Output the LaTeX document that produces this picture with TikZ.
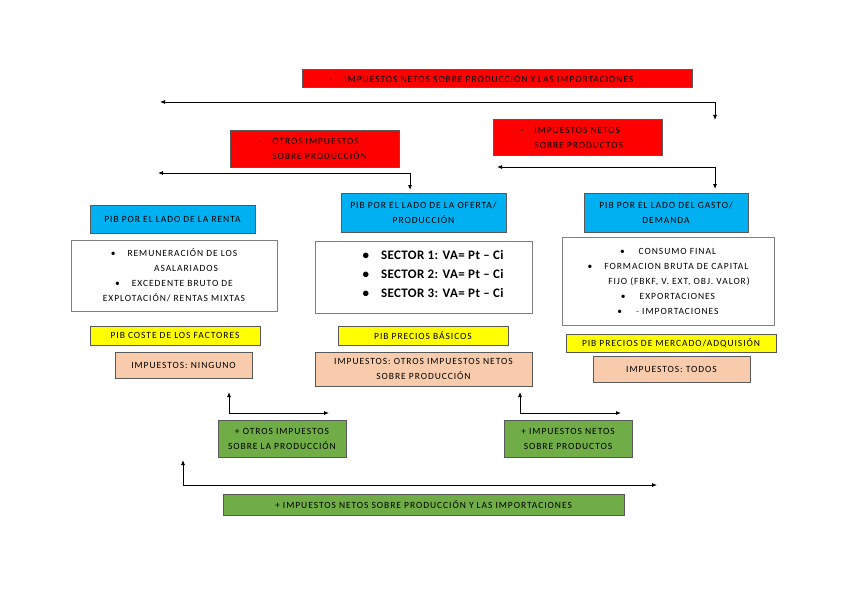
\documentclass[tikz,border=0pt]{standalone}
\usepackage{fontspec}
\setmainfont{Carlito}
\newfontfamily\espaciada[LetterSpace=10]{Carlito}
\newfontfamily\poca[LetterSpace=3]{Carlito}
\usetikzlibrary{arrows.meta}
\definecolor{rojo}{HTML}{FF0000}
\definecolor{azul}{HTML}{00B0F0}
\definecolor{amarillo}{HTML}{FFFF00}
\definecolor{salmon}{HTML}{F8CBAD}
\definecolor{verde}{HTML}{70AD47}
\definecolor{borde}{HTML}{595959}
\tikzset{
	letra/.style={font=\espaciada\fontsize{9.5}{15}\selectfont},
	caja/.style={draw=borde,line width=0.8pt,inner sep=0pt,letra,align=center},
	roja/.style={caja,fill=rojo},
	azulbox/.style={caja,fill=azul},
	blanca/.style={caja,draw=gray,fill=white},
	amarilla/.style={caja,fill=amarillo},
	salmonbox/.style={caja,fill=salmon},
	verdebox/.style={caja,fill=verde},
	flecha/.style={line width=0.8pt,{Latex[length=5pt,width=4pt]}-{Latex[length=5pt,width=4pt]}},
}
\begin{document}
\begin{tikzpicture}[x=1pt,y=-1pt]
\useasboundingbox (0,0) rectangle (848,599);
% impuestos que se restan
\node [roja,minimum width=390,minimum height=18] (inpm) at (497,78) {};
\node [anchor=west,letra] (inpmt) at (326,78.5) {-\hspace{12pt}IMPUESTOS NETOS SOBRE PRODUCCIÓN Y LAS IMPORTACIONES};
\node [roja,minimum width=169,minimum height=37] (oisp) at (314.5,148.5) {};
\node [anchor=west,letra] (oispt) at (255,149)
  {\begin{tabular}{@{}l@{\hspace{11pt}}l@{}}-&OTROS IMPUESTOS\\&SOBRE PRODUCCIÓN\end{tabular}};
\node [roja,minimum width=169,minimum height=36] (insp) at (577.5,137) {};
\node [anchor=west,letra] (inspt) at (517,137.5)
  {\begin{tabular}{@{}l@{\hspace{11pt}}l@{}}-&IMPUESTOS NETOS\\&SOBRE PRODUCTOS\end{tabular}};
% las tres vias del PIB
\node [azulbox,minimum width=165,minimum height=28] (renta) at (172.5,219) {PIB POR EL LADO DE LA RENTA};
\node [blanca,minimum width=206,minimum height=71] (rental) at (174,275.5)
  {\textbullet\hspace{12pt}REMUNERACIÓN DE LOS\\\hspace{24pt}ASALARIADOS\\\textbullet\hspace{12pt}EXCEDENTE BRUTO DE\\EXPLOTACIÓN/ RENTAS MIXTAS};
\node [azulbox,minimum width=165,minimum height=39] (oferta) at (423.5,212.5) {PIB POR EL LADO DE LA OFERTA/\\PRODUCCIÓN};
\node [blanca,minimum width=217,minimum height=72] (ofertal) at (423.5,277) {};
\node [anchor=west,font=\poca\bfseries\fontsize{13}{19}\selectfont] (ofertat) at (359,275)
  {\begin{tabular}{@{}l@{\hspace{12pt}}l@{}}\textbullet&SECTOR 1: VA= Pt – Ci\\\textbullet&SECTOR 2: VA= Pt – Ci\\\textbullet&SECTOR 3: VA= Pt – Ci\end{tabular}};
\node [azulbox,minimum width=164,minimum height=39] (gasto) at (666,212.5) {PIB POR EL LADO DEL GASTO/\\DEMANDA};
\node [blanca,minimum width=212,minimum height=88] (gastol) at (668,281)
  {\textbullet\hspace{14pt}CONSUMO FINAL\\\textbullet\hspace{12pt}FORMACION BRUTA DE CAPITAL\\\hspace{22pt}FIJO (FBKF, V. EXT, OBJ. VALOR)\\\textbullet\hspace{14pt}EXPORTACIONES\\\textbullet\hspace{14pt}{\color{rojo}-} IMPORTACIONES};
% precios y sus impuestos
\node [amarilla,minimum width=170,minimum height=19] (coste) at (175,335.5) {PIB COSTE DE LOS FACTORES};
\node [salmonbox,minimum width=137,minimum height=26] (ninguno) at (183.5,365) {IMPUESTOS: NINGUNO};
\node [amarilla,minimum width=170,minimum height=19] (basicos) at (423,335.5) {PIB PRECIOS BÁSICOS};
\node [salmonbox,minimum width=217,minimum height=34] (otros) at (423.5,369) {IMPUESTOS: OTROS IMPUESTOS NETOS\\SOBRE PRODUCCIÓN};
\node [amarilla,minimum width=210,minimum height=18] (mercado) at (671,343) {PIB PRECIOS DE MERCADO/ADQUISIÓN};
\node [salmonbox,minimum width=157,minimum height=26] (todos) at (671.5,369) {IMPUESTOS: TODOS};
% impuestos que se suman
\node [verdebox,minimum width=128,minimum height=37] (masoi) at (282,438.5) {+ OTROS IMPUESTOS\\SOBRE LA PRODUCCIÓN};
\node [verdebox,minimum width=128,minimum height=37] (masin) at (568,438.5) {+ IMPUESTOS NETOS\\SOBRE PRODUCTOS};
\node [verdebox,minimum width=401,minimum height=21] (masinpm) at (423.5,504.5) {+ IMPUESTOS NETOS SOBRE PRODUCCIÓN Y LAS IMPORTACIONES};
% puntos de las flechas
\coordinate (a1) at (160,102);
\coordinate (a2) at (715,120);
\coordinate (b1) at (158,173);
\coordinate (b2) at (410,190);
\coordinate (c1) at (497,167);
\coordinate (c2) at (715,189);
\coordinate (d1) at (229,392);
\coordinate (d2) at (329,413);
\coordinate (e1) at (520,392);
\coordinate (e2) at (621,413);
\coordinate (f1) at (183,460);
\coordinate (f2) at (657,485);
\draw [flecha] (a1) -| (a2);
\draw [flecha] (b1) -| (b2);
\draw [flecha] (c1) -| (c2);
\draw [flecha] (d1) |- (d2);
\draw [flecha] (e1) |- (e2);
\draw [flecha] (f1) |- (f2);
\end{tikzpicture}
\end{document}
